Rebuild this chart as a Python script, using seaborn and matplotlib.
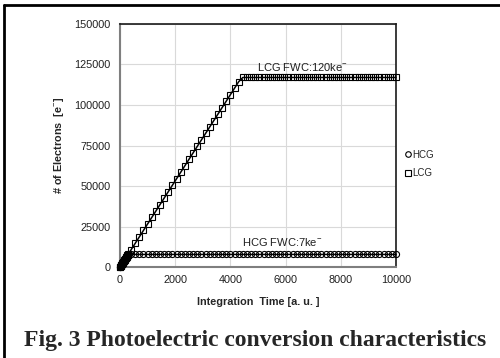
import matplotlib
matplotlib.use("Agg")
import matplotlib.pyplot as plt
from matplotlib.lines import Line2D
import seaborn as sns
import pandas as pd

# ---- data ----
time_au = [0, 10, 20, 30, 40, 50, 60, 70, 80, 90, 100, 110, 120, 130, 140, 150,
           160, 170, 180, 190, 200, 210, 220, 230, 240, 250, 260, 270, 280, 290, 300,
           400, 550, 700, 850, 1000, 1150, 1300, 1450, 1600, 1750, 1900, 2050, 2200,
           2350, 2500, 2650, 2800, 2950, 3100, 3250, 3400, 3550, 3700, 3850, 4000,
           4150, 4300, 4450, 4600, 4750, 4900, 5050, 5200, 5350, 5500, 5650, 5800,
           5950, 6100, 6250, 6400, 6550, 6700, 6850, 7000, 7150, 7300, 7450, 7600,
           7750, 7900, 8050, 8200, 8350, 8500, 8650, 8800, 8950, 9100, 9250, 9400,
           9550, 9700, 9850, 10000]

hcg_electrons = [0, 270, 530, 800, 1060, 1330, 1600, 1860, 2130, 2390, 2660, 2930,
                 3190, 3460, 3720, 3990, 4260, 4520, 4790, 5050, 5320, 5590, 5850,
                 6120, 6380, 6650, 6920, 7180, 7450, 7710, 7800,
                 7800, 7800, 7800, 7800, 7800, 7800, 7800, 7800, 7800, 7800, 7800, 7800, 7800,
                 7800, 7800, 7800, 7800, 7800, 7800, 7800, 7800, 7800, 7800, 7800, 7800, 7800,
                 7800, 7800, 7800, 7800, 7800, 7800, 7800, 7800, 7800, 7800, 7800, 7800, 7800,
                 7800, 7800, 7800, 7800, 7800, 7800, 7800, 7800, 7800, 7800, 7800, 7800, 7800,
                 7800, 7800, 7800, 7800, 7800, 7800, 7800, 7800, 7800, 7800, 7800, 7800, 7800]

lcg_electrons = [0, 270, 530, 800, 1060, 1330, 1600, 1860, 2130, 2390, 2660, 2930,
                 3190, 3460, 3720, 3990, 4260, 4520, 4790, 5050, 5320, 5590, 5850,
                 6120, 6380, 6650, 6920, 7180, 7450, 7710, 7980,
                 10640, 14630, 18620, 22610, 26600, 30590, 34580, 38570, 42560, 46550,
                 50540, 54530, 58520, 62510, 66500, 70490, 74480, 78470, 82460, 86450,
                 90440, 94430, 98420, 102410, 106400, 110390, 114380,
                 117000, 117000, 117000, 117000, 117000, 117000, 117000, 117000, 117000, 117000,
                 117000, 117000, 117000, 117000, 117000, 117000, 117000, 117000, 117000, 117000,
                 117000, 117000, 117000, 117000, 117000, 117000, 117000, 117000, 117000, 117000,
                 117000, 117000, 117000, 117000, 117000, 117000, 117000, 117000]

series_names = ["HCG", "LCG"]
x_ticks = [0, 2000, 4000, 6000, 8000, 10000]
y_ticks = [0, 25000, 50000, 75000, 100000, 125000, 150000]
lcg_note = "LCG FWC:120ke$^{-}$"
hcg_note = "HCG FWC:7ke$^{-}$"
caption = "Fig. 3 Photoelectric conversion characteristics"

df = pd.DataFrame({"t": time_au, "HCG": hcg_electrons, "LCG": lcg_electrons})

sns.set_theme(style="white")
plt.rcParams["font.family"] = ["Liberation Sans", "DejaVu Sans"]
plt.rcParams["mathtext.fontset"] = "custom"
plt.rcParams["mathtext.rm"] = "Liberation Sans"
plt.rcParams["mathtext.bf"] = "Liberation Sans:bold"

fig = plt.figure(figsize=(5.0, 3.58), dpi=100)
ax = fig.add_axes([0.24, 0.254, 0.552, 0.679])

sns.lineplot(data=df, x="t", y="HCG", ax=ax, color="black", lw=1.1,
             marker="o", markersize=4.4, markerfacecolor="none",
             markeredgecolor="black", markeredgewidth=0.8, clip_on=False, zorder=3)
sns.lineplot(data=df, x="t", y="LCG", ax=ax, color="black", lw=1.1,
             marker="s", markersize=5, markerfacecolor="none",
             markeredgecolor="black", markeredgewidth=0.8, clip_on=False, zorder=3)

ax.set_xlim(0, 10000)
ax.set_ylim(0, 150000)
ax.set_xticks(x_ticks)
ax.set_yticks(y_ticks)
ax.set_xticklabels([str(v) for v in x_ticks])
ax.set_yticklabels([str(v) for v in y_ticks])
ax.tick_params(axis="both", length=0, labelsize=7.8, colors="#202020")
ax.tick_params(axis="y", pad=7)
ax.tick_params(axis="x", pad=6)
ax.grid(True, color="#d9d9d9", lw=0.8)
ax.set_axisbelow(True)
for side in ["top", "right"]:
    ax.spines[side].set_color("#1a1a1a")
    ax.spines[side].set_linewidth(1.2)
for side in ["left", "bottom"]:
    ax.spines[side].set_color("#7f7f7f")
    ax.spines[side].set_linewidth(1.5)

ax.set_xlabel("Integration  Time [a. u. ]", fontsize=7.8, fontweight="bold", labelpad=8)
ax.set_ylabel("# of Electrons  [e$^{-}$]", fontsize=7.8, fontweight="bold", labelpad=6)

ax.text(4980, 123200, lcg_note, fontsize=8, va="center", ha="left", color="#202020")
ax.text(4420, 15200, hcg_note, fontsize=8, va="center", ha="left", color="#202020")

handles = [Line2D([], [], ls="none", marker="o", markersize=4, markerfacecolor="none",
                  markeredgecolor="black", markeredgewidth=0.8),
           Line2D([], [], ls="none", marker="s", markersize=4.5, markerfacecolor="none",
                  markeredgecolor="black", markeredgewidth=0.8)]
leg = fig.legend(handles, series_names, loc="center left",
                 bbox_to_anchor=(0.81, 0.542), frameon=False, fontsize=7,
                 handlelength=0.6, handletextpad=0.1, labelspacing=0.85,
                 borderaxespad=0, borderpad=0)

fig.text(0.51, 0.05, caption, ha="center", va="center", fontsize=17,
         fontweight="bold", family=["Liberation Serif", "DejaVu Serif"])

# page border (top and left)
fig.add_artist(Line2D([0.008, 1.0], [0.985, 0.985], transform=fig.transFigure,
                      color="black", lw=2.0))
fig.add_artist(Line2D([0.008, 0.008], [0.0, 0.985], transform=fig.transFigure,
                      color="black", lw=2.0))

fig.savefig("out.png", dpi=100)
